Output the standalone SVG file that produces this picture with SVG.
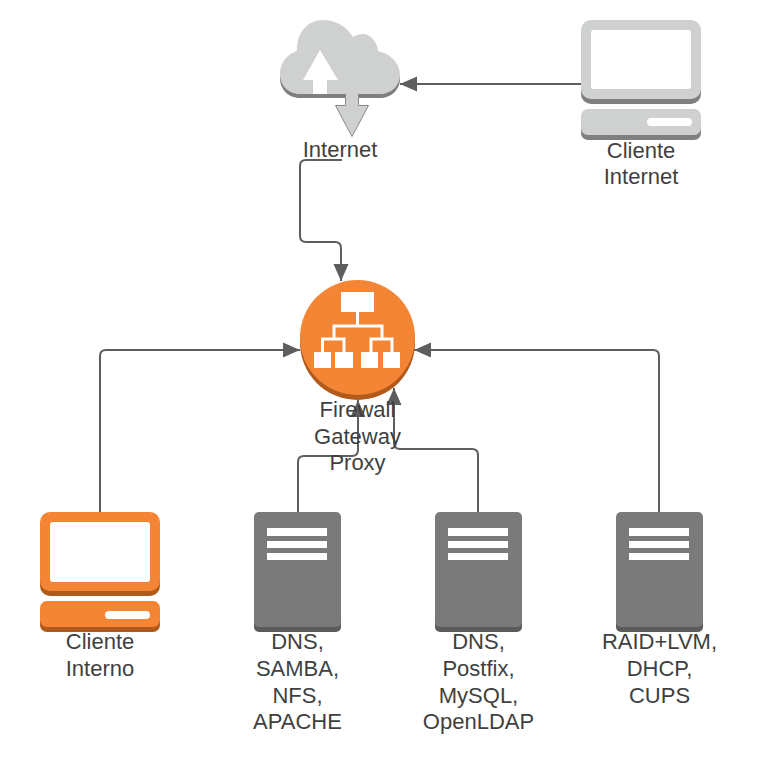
<svg xmlns="http://www.w3.org/2000/svg" width="780" height="771" viewBox="0 0 780 771">
<style>
text{font-family:"Liberation Sans",Arial,sans-serif;font-size:22px;fill:#3f3f3f;text-anchor:middle}
.c{fill:none;stroke:#5e5e5e;stroke-width:2}
.gm{fill:#cfd0d0}.gd{fill:#7f7f7f}
.om{fill:#f38534}.od{fill:#b25a1c}
.w{fill:#fff}
.sm{fill:#7a7a7a}.sd{fill:#5b5b5b}
</style>
<defs>
<marker id="a" markerUnits="userSpaceOnUse" markerWidth="18" markerHeight="18" refX="17" refY="9" orient="auto"><path d="M0 1.500L17 9L0 16.500Z" fill="#5e5e5e"/></marker>
<path id="cl" d="M300 94C288 94 280 85 280 74C280 63 287 54 297 51C296 33 308 20 323 20C336 20 347 27 353 37C356 35 360 34 363 34C371 34 377 42 378 51C391 54 400 63 400 75C400 86 391 94 380 94Z"/>
</defs>
<rect width="780" height="771" fill="#fff"/>
<g id="connectors">
<path class="c" marker-end="url(#a)" d="M581 84H400"/>
<path class="c" marker-end="url(#a)" d="M342 160H306Q300 160 300 166V236Q300 242 306 242H335Q341 242 341 248V281"/>
<path class="c" marker-end="url(#a)" d="M100 512V356Q100 350 106 350H300"/>
<path class="c" marker-end="url(#a)" d="M659 512V356Q659 350 653 350H414"/>
<path class="c" marker-end="url(#a)" d="M298 512V462Q298 456 304 456H352Q358 456 358 450V400"/>
<path class="c" marker-end="url(#a)" d="M478 512V455Q478 449 472 449H400Q394 449 394 443V388"/>
</g>
<g id="internet">
<use href="#cl" y="4" class="gd"/>
<use href="#cl" class="gm"/>
<path class="w" d="M320 50L338 80H327V94H313V80H303Z"/>
<path class="gm" stroke="#8a8a8a" stroke-width="1" d="M345.500 94V105.500H335.500L352 136.500L368.500 105.500H358.500V94Z"/>
<path class="gm" d="M346 93H358V98H346Z"/>
<text x="340" y="157">Internet</text>
</g>
<g id="cliente-internet">
<rect class="gd" x="581" y="25" width="120" height="79" rx="10"/>
<rect class="gm" x="581" y="20" width="120" height="79" rx="10"/>
<rect class="w" x="591" y="30" width="100" height="59" rx="3"/>
<rect class="gd" x="581" y="114" width="120" height="26" rx="7"/>
<rect class="gm" x="581" y="109" width="120" height="26" rx="7"/>
<rect class="w" x="647" y="118" width="45" height="8" rx="4"/>
<text x="641" y="158">Cliente</text>
<text x="641" y="184">Internet</text>
</g>
<g id="firewall">
<circle class="od" cx="357.500" cy="342.500" r="57.500"/>
<circle class="om" cx="357.500" cy="337.500" r="57.500"/>
<path d="M357.500 312V326M334 338V326H382V338M322.500 352V339H344V352M371 352V339H392V352" fill="none" stroke="#fff" stroke-width="3"/>
<g class="w">
<rect x="341" y="292" width="33" height="20"/>
<rect x="314" y="352" width="17" height="16"/>
<rect x="335" y="352" width="18" height="16"/>
<rect x="361" y="352" width="17" height="16"/>
<rect x="383" y="352" width="17" height="16"/>
</g>
<text x="357.500" y="417">Firewall</text>
<text x="357.500" y="444">Gateway</text>
<text x="357.500" y="470">Proxy</text>
</g>
<g id="cliente-interno">
<rect class="od" x="40" y="517" width="120" height="79" rx="10"/>
<rect class="om" x="40" y="512" width="120" height="79" rx="10"/>
<rect class="w" x="50" y="522" width="100" height="60" rx="3"/>
<rect class="od" x="40" y="606" width="120" height="26" rx="7"/>
<rect class="om" x="40" y="601" width="120" height="26" rx="7"/>
<rect class="w" x="105" y="611" width="45" height="8" rx="4"/>
<text x="100" y="649">Cliente</text>
<text x="100" y="676">Interno</text>
</g>
<g id="servidor-1">
<rect class="sd" x="254" y="517" width="87" height="115" rx="5"/>
<rect class="sm" x="254" y="512" width="87" height="115" rx="5"/>
<rect class="w" x="267" y="528" width="60" height="8"/>
<rect class="w" x="267" y="541" width="60" height="7"/>
<rect class="w" x="267" y="553" width="60" height="7"/>
<text x="297.500" y="649">DNS,</text>
<text x="297.500" y="676">SAMBA,</text>
<text x="297.500" y="703">NFS,</text>
<text x="297.500" y="729">APACHE</text>
</g>
<g id="servidor-2">
<rect class="sd" x="435" y="517" width="87" height="115" rx="5"/>
<rect class="sm" x="435" y="512" width="87" height="115" rx="5"/>
<rect class="w" x="448" y="528" width="60" height="8"/>
<rect class="w" x="448" y="541" width="60" height="7"/>
<rect class="w" x="448" y="553" width="60" height="7"/>
<text x="478.500" y="649">DNS,</text>
<text x="478.500" y="676">Postfix,</text>
<text x="478.500" y="703">MySQL,</text>
<text x="478.500" y="729">OpenLDAP</text>
</g>
<g id="servidor-3">
<rect class="sd" x="616" y="517" width="87" height="115" rx="5"/>
<rect class="sm" x="616" y="512" width="87" height="115" rx="5"/>
<rect class="w" x="629" y="528" width="60" height="8"/>
<rect class="w" x="629" y="541" width="60" height="7"/>
<rect class="w" x="629" y="553" width="60" height="7"/>
<text x="659.500" y="649">RAID+LVM,</text>
<text x="659.500" y="676">DHCP,</text>
<text x="659.500" y="703">CUPS</text>
</g>
</svg>
